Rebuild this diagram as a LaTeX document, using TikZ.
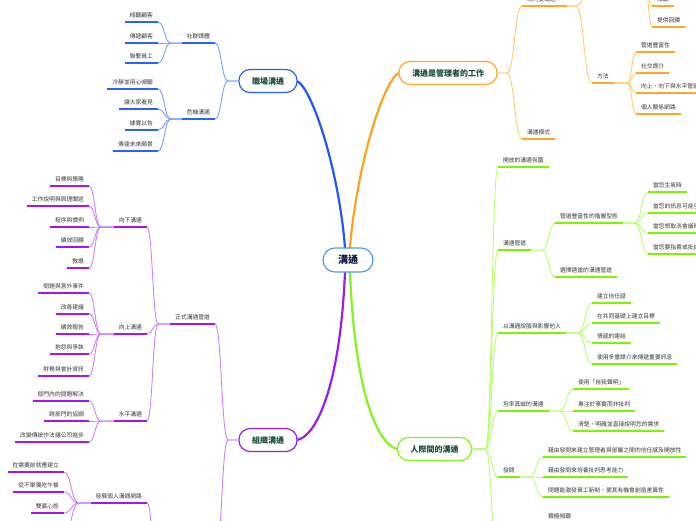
\documentclass[tikz,border=0pt]{standalone}
\usepackage{fontspec}
\setmainfont{Noto Sans CJK TC}
\usetikzlibrary{calc,backgrounds}
\definecolor{txt}{HTML}{383838}
\definecolor{mainT}{HTML}{1B4D3A}
\definecolor{cenT}{HTML}{0E1A40}
\definecolor{cenB}{HTML}{4E9FDC}
\definecolor{bM}{HTML}{2457F5}
\definecolor{bU}{HTML}{2A62FF}
\definecolor{bL}{HTML}{7A9EFF}
\definecolor{pM}{HTML}{9B1CF0}
\definecolor{pU}{HTML}{A414F5}
\definecolor{pL}{HTML}{C982FF}
\definecolor{oM}{HTML}{FFA21F}
\definecolor{oU}{HTML}{FFA726}
\definecolor{oL}{HTML}{FFCB73}
\definecolor{gM}{HTML}{84F21E}
\definecolor{gU}{HTML}{7CF500}
\definecolor{gL}{HTML}{B8FF70}
\newcommand\lnk[4]{%
  \draw[#1] let \p1=(#2), \p2=(#4) in (\p1) -- ++(#3,0)
    .. controls ({(\x1+(#3pt)+\x2)/2},\y1) and ({(\x1+(#3pt)+\x2)/2},\y2) .. (\p2);}
\tikzset{
  sub/.style={inner xsep=5pt, inner ysep=4pt, outer sep=0pt, text height=5pt, text depth=1pt,
    font=\fontsize{5.8}{7}\selectfont, text=txt},
  rs/.style={sub, anchor=south west},
  ls/.style={sub, anchor=south east},
  mainnode/.style={draw, rounded corners=11pt, fill=white, line width=1.2pt, minimum height=23pt,
    inner xsep=13pt, outer sep=0pt, font=\fontsize{8}{9}\selectfont\bfseries, text=mainT},
  cennode/.style={draw=cenB, rounded corners=12pt, fill=white, line width=1.2pt, minimum height=24pt,
    inner xsep=15pt, outer sep=0pt, font=\fontsize{10}{12}\selectfont\bfseries, text=cenT},
  bline/.style={draw=bL, line width=0.9pt},
  pline/.style={draw=pL, line width=0.9pt},
  oline/.style={draw=oL, line width=0.9pt},
  gline/.style={draw=gL, line width=0.9pt},
  bul/.style={draw=bU, line width=1.7pt},
  pul/.style={draw=pU, line width=1.7pt},
  oul/.style={draw=oU, line width=1.7pt},
  gul/.style={draw=gU, line width=1.7pt},
}
\begin{document}
\begin{tikzpicture}[x=1pt,y=-1pt]
\useasboundingbox (0,0) rectangle (696,520);
\clip (0,0) rectangle (696,520);
% main nodes
\node[cennode] (c) at (348,260) {溝通};
\node[mainnode, draw=bU] (jc) at (268,81) {職場溝通};
\node[mainnode, draw=pM] (org) at (268,440) {組織溝通};
\node[mainnode, draw=oU] (job) at (448,73) {溝通是管理者的工作};
\node[mainnode, draw=gM] (ppl) at (434.5,449) {人際間的溝通};
% blue branch
\node[ls] (bsm) at (215,43) {社群媒體};
\node[ls] (bcr) at (215,119) {危機溝通};
\node[ls] (b1) at (158,22) {傾聽顧客};
\node[ls] (b2) at (158,43) {傳遞顧客};
\node[ls] (b3) at (158,63) {聯繫員工};
\node[ls] (b4) at (158,89) {冷靜並用心傾聽};
\node[ls] (b5) at (158,109) {讓大家看見};
\node[ls] (b6) at (158,130) {據實以告};
\node[ls] (b7) at (158,151) {傳達未來願景};
% purple branch
\node[ls] (pfo) at (215,324) {正式溝通管道};
\node[ls] (pdown) at (147,227) {向下溝通};
\node[ls] (pup) at (147,334) {向上溝通};
\node[ls] (phor) at (147,421) {水平溝通};
\node[ls] (pd1) at (89,186) {目標與策略};
\node[ls] (pd2) at (89,206) {工作說明與原理闡述};
\node[ls] (pd3) at (89,227) {程序與慣例};
\node[ls] (pd4) at (89,247) {績效回饋};
\node[ls] (pd5) at (89,268) {教導};
\node[ls] (pu1) at (89,293) {問題與意外事件};
\node[ls] (pu2) at (89,314) {改善建議};
\node[ls] (pu3) at (89,334) {績效報告};
\node[ls] (pu4) at (89,354) {抱怨與爭執};
\node[ls] (pu5) at (89,376) {財務與會計資訊};
\node[ls] (ph1) at (89,401) {部門內的問題解決};
\node[ls] (ph2) at (89,421) {跨部門的協調};
\node[ls] (ph3) at (89,442) {改變傳統作法讓公司進步};
\node[ls] (pdev) at (147,503) {發展個人溝通網路};
\node[ls] (pv1) at (64,472) {在需要前就應建立};
\node[ls] (pv2) at (64,492) {從不單獨吃午餐};
\node[ls] (pv3) at (64,513) {雙贏心態};
\coordinate (pinfW) at (169,565);
\coordinate (pinfE) at (215,565);
\coordinate (pv4) at (64,536);
% orange branch
\node[rs] (o1) at (522,6) {為何要溝通？};
\node[rs] (o3) at (522,139) {溝通模式};
\node[rs] (o2) at (592,83) {方法};
\node[rs] (om1) at (636,52) {管道豐富性};
\node[rs] (om2) at (636,73) {社交媒介};
\node[rs] (om3) at (636,93) {向上、向下與水平管道};
\node[rs] (om4) at (636,114) {個人關係網路};
\coordinate (oSW) at (592,-14);
\coordinate (oSE) at (640,-14);
\node[rs] (ot1) at (652,6) {傾聽};
\node[rs] (ot2) at (652,27) {提供回饋};
% green branch
\node[rs] (g1) at (498,167) {開放的溝通氛圍};
\node[rs] (g2) at (498,250) {溝通管道};
\node[rs] (g3) at (498,333) {以溝通說服與影響他人};
\node[rs] (g4) at (498,411) {坦率真誠的溝通};
\node[rs] (g5) at (498,477) {發問};
\coordinate (g6W) at (498,565);
\coordinate (g6E) at (522,565);
\node[rs] (g21) at (555,223) {管道豐富性的階層型態};
\node[rs] (g22) at (555,277) {選擇適當的溝通管道};
\node[rs] (g211) at (648,192) {當您生氣時};
\node[rs] (g212) at (648,213) {當您的訊息可能引起爭議時};
\node[rs] (g213) at (648,233) {當您想取消會議時};
\node[rs] (g214) at (648,254) {當您要指責或批評時};
\node[rs] (g31) at (592,303) {建立信任感};
\node[rs] (g32) at (592,323) {在共同基礎上建立目標};
\node[rs] (g33) at (592,343) {情感的連結};
\node[rs] (g34) at (592,364) {使用多重媒介來傳遞重要訊息};
\node[rs] (g41) at (573,389) {使用「自我聲明」};
\node[rs] (g42) at (573,411) {專注於事實而非批判};
\node[rs] (g43) at (573,431) {清楚、明確並直接說明您的需求};
\node[rs] (g51) at (543,457) {藉由發問來建立管理者與部屬之間的信任感及開放性};
\node[rs] (g52) at (543,477) {藉由發問來培養批判思考能力};
\node[rs] (g53) at (543,497) {問題能激發員工新制，使其有機會創造差異性};
\node[rs] (g61) at (543,523) {積極傾聽};
% underlines
\foreach \k in {bsm,bcr,b1,b2,b3,b4,b5,b6,b7} \draw[bul] (\k.south west) -- (\k.south east);
\foreach \k in {pfo,pdown,pup,phor,pd1,pd2,pd3,pd4,pd5,pu1,pu2,pu3,pu4,pu5,ph1,ph2,ph3,pdev,pv1,pv2,pv3}
  \draw[pul] (\k.south west) -- (\k.south east);
\foreach \k in {o1,o2,o3,om1,om2,om3,om4,ot1,ot2} \draw[oul] (\k.south west) -- (\k.south east);
\foreach \k in {g1,g2,g3,g4,g5,g21,g22,g211,g212,g213,g214,g31,g32,g33,g34,g41,g42,g43,g51,g52,g53,g61}
  \draw[gul] (\k.south west) -- (\k.south east);
% connectors from the central topic, drawn behind the nodes
\begin{pgfonlayer}{background}
\clip (0,0) rectangle (696,520);
\draw[bM, line width=2.2pt] ($(c.north)+(-3,0)$) .. controls (339,170) and (312,88) .. (jc.east);
\draw[oM, line width=2.2pt] ($(c.north)+(2,0)$) .. controls (356,170) and (383,80) .. (job.west);
\draw[pM, line width=2.2pt] ($(c.south)+(-3,0)$) .. controls (340,390) and (315,437) .. (org.east);
\draw[gM, line width=2.2pt] ($(c.south)+(2,0)$) .. controls (355,400) and (380,446) .. (ppl.west);
\end{pgfonlayer}
\lnk{bline}{jc.west}{-11}{bsm.south east}
\lnk{bline}{jc.west}{-11}{bcr.south east}
\foreach \k in {b1,b2,b3} {\lnk{bline}{bsm.south west}{-11}{\k.south east}}
\foreach \k in {b4,b5,b6,b7} {\lnk{bline}{bcr.south west}{-11}{\k.south east}}
\lnk{pline}{org.west}{-11}{pfo.south east}
\lnk{pline}{org.west}{-11}{pinfE}
\foreach \k in {pdown,pup,phor} {\lnk{pline}{pfo.south west}{-12}{\k.south east}}
\foreach \k in {pd1,pd2,pd3,pd4,pd5} {\lnk{pline}{pdown.south west}{-13}{\k.south east}}
\foreach \k in {pu1,pu2,pu3,pu4,pu5} {\lnk{pline}{pup.south west}{-13}{\k.south east}}
\foreach \k in {ph1,ph2,ph3} {\lnk{pline}{phor.south west}{-13}{\k.south east}}
\lnk{pline}{pinfW}{-12}{pdev.south east}
\foreach \k in {pv1,pv2,pv3,pv4} {\lnk{pline}{pdev.south west}{-12}{\k.south east}}
\lnk{oline}{job.east}{10}{o1.south west}
\lnk{oline}{job.east}{10}{o3.south west}
\lnk{oline}{o1.south east}{9}{o2.south west}
\lnk{oline}{o1.south east}{9}{oSW}
\foreach \k in {om1,om2,om3,om4} {\lnk{oline}{o2.south east}{14}{\k.south west}}
\foreach \k in {ot1,ot2} {\lnk{oline}{oSE}{5}{\k.south west}}
\foreach \k in {g1,g2,g3,g4,g5,g6W} {\lnk{gline}{ppl.east}{14}{\k.south west}}
\foreach \k in {g21,g22} {\lnk{gline}{g2.south east}{11}{\k.south west}}
\foreach \k in {g211,g212,g213,g214} {\lnk{gline}{g21.south east}{12}{\k.south west}}
\foreach \k in {g31,g32,g33,g34} {\lnk{gline}{g3.south east}{12}{\k.south west}}
\foreach \k in {g41,g42,g43} {\lnk{gline}{g4.south east}{11}{\k.south west}}
\foreach \k in {g51,g52,g53} {\lnk{gline}{g5.south east}{10}{\k.south west}}
\lnk{gline}{g6E}{10}{g61.south west}
\end{tikzpicture}
\end{document}
